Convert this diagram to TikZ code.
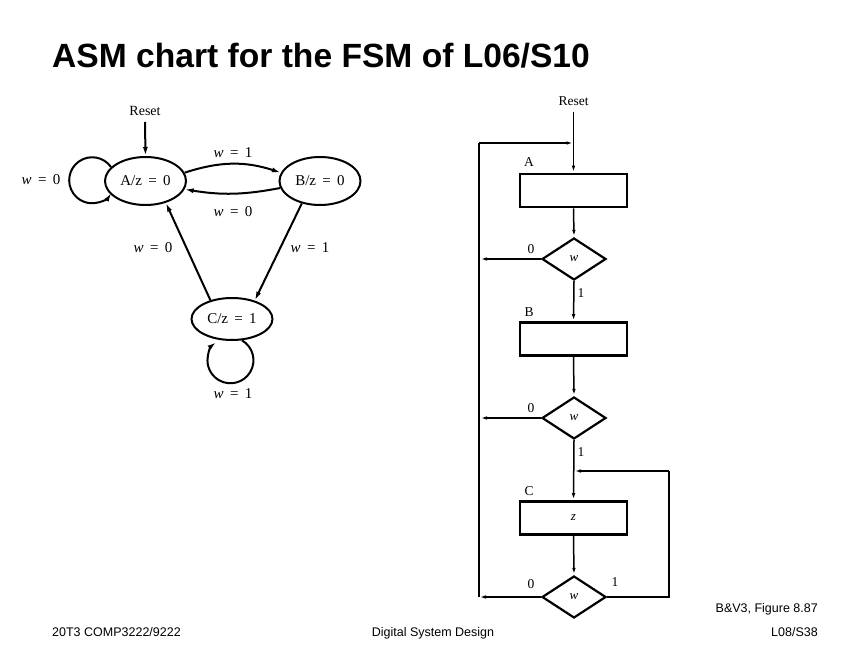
\documentclass[tikz,border=0pt]{standalone}
\usepackage{fontspec}
\setmainfont{Liberation Serif}
\newfontfamily\slidefont{Liberation Sans}
\usetikzlibrary{shapes.geometric,arrows.meta}
\newcommand{\eqsp}{\hspace{0.42em}}
\begin{document}
\begin{tikzpicture}[x=1pt,y=1pt,
  state/.style={ellipse,draw,line width=2pt,inner sep=0pt,minimum width=81pt,minimum height=48pt,font=\fontsize{15}{15}\selectfont},
  lbl/.style={font=\fontsize{15}{15}\selectfont,inner sep=0pt},
  sarr/.style={line width=2pt,-{Latex[length=9pt,width=5pt]}},
  abox/.style={rectangle,draw,line width=2.6pt,minimum width=107pt,minimum height=33pt,inner sep=0pt,font=\fontsize{13}{13}\selectfont},
  adia/.style={diamond,draw,line width=2.2pt,minimum width=64pt,minimum height=42pt,inner sep=0pt,font=\fontsize{13}{13}\selectfont},
  alab/.style={font=\fontsize{13.5}{13.5}\selectfont,inner sep=0pt},
  aarr/.style={line width=1.5pt,-{Latex[length=7pt,width=3.5pt]}},
  aline/.style={line width=1.5pt},
  foot/.style={font=\slidefont\fontsize{12.5}{12.5}\selectfont,inner sep=0pt}]
\useasboundingbox (0,0) rectangle (864,648);

% title
\node[anchor=base west,inner sep=0pt,font=\slidefont\bfseries\fontsize{33.6}{33.6}\selectfont] (title) at (52,580) {ASM chart for the FSM of L06/S10};

% ---------- state diagram ----------
\node[font=\fontsize{14}{14}\selectfont,inner sep=0pt] (rst1) at (145,537) {Reset};
\node[state] (A) at (145.5,467) {A/z\eqsp=\eqsp0};
\node[state] (B) at (320,467) {B/z\eqsp=\eqsp0};
\node[state,minimum height=42pt] (C) at (232,329) {C/z\eqsp=\eqsp1};

\coordinate (rst1a) at (145,526);
\draw[sarr] (rst1a) -- (A.north);

% self-loop on A
\node[lbl] (lA) at (41,468) {\textit{w}\eqsp=\eqsp0};
\draw[sarr] (A.158) arc[start angle=35,end angle=327,radius=23];
\node[lbl] (lAB) at (233,495) {\textit{w}\eqsp=\eqsp1};
\draw[sarr] (A.12) to[bend left=18] (B.168);
\node[lbl] (lBA) at (233,436) {\textit{w}\eqsp=\eqsp0};
\draw[sarr] (B.190) to[bend left=10] (A.348);
\node[lbl] (lBC) at (310,400) {\textit{w}\eqsp=\eqsp1};
\draw[sarr] (B.-129) -- (C.39);
\node[lbl] (lCA) at (153,400) {\textit{w}\eqsp=\eqsp0};
\draw[sarr] (C.139) -- (A.-47);
% self-loop on C
\node[lbl] (lC) at (233,254) {\textit{w}\eqsp=\eqsp1};
\draw[sarr] (C.-65) arc[start angle=60,end angle=-232,radius=23];

% ---------- ASM chart ----------
\node[alab] (rst2) at (573.5,547) {Reset};
\coordinate (top) at (573.5,536);
\coordinate (jA) at (573.5,505);
\coordinate (loopT) at (479,505);
\coordinate (loopB) at (479,51);

\node[alab] (nA) at (529,486) {A};
\node[abox] (boxA) at (573.5,457.5) {};
\node[adia] (d1) at (574,389) {\textit{w}};
\node[alab] (d1z) at (531,399) {0};
\node[alab] (d1o) at (581,355) {1};
\coordinate (d1l) at (480,389);

\node[alab] (nB) at (529,336) {B};
\node[abox] (boxB) at (573.5,309) {};
\node[adia] (d2) at (574,230) {\textit{w}};
\node[alab] (d2z) at (531,240) {0};
\node[alab] (d2o) at (581,196) {1};
\coordinate (d2l) at (480,230);

\coordinate (jC) at (574,177);
\coordinate (fbR) at (669,177);
\coordinate (fbB) at (669,51);
\node[alab] (nC) at (529,157) {C};
\node[abox] (boxC) at (573.5,130) {\textit{z}};
\node[adia] (d3) at (574,51) {\textit{w}};
\node[alab] (d3z) at (531,64) {0};
\node[alab] (d3o) at (615,66) {1};

\draw[aarr] (top) -- (boxA.north);
\draw[aline] (loopB) -- (loopT);
\draw[aarr] (loopT) -- (jA);
\draw[aarr] (boxA.south) -- (d1.north);
\draw[aarr] (d1.west) -- (d1l);
\draw[aarr] (d1.south) -- (boxB.north);
\draw[aarr] (boxB.south) -- (d2.north);
\draw[aarr] (d2.west) -- (d2l);
\draw[aarr] (d2.south) -- (boxC.north);
\draw[aarr] (boxC.south) -- (d3.north);
\draw[aarr] (d3.west) -- (loopB);
\draw[aline] (d3.east) -- (fbB) -- (fbR);
\draw[aarr] (fbR) -- (jC);

% ---------- footer ----------
\node[foot,anchor=base east] (ref) at (818,36) {B\&V3, Figure 8.87};
\node[foot,anchor=base west] (course) at (52,12) {20T3 COMP3222/9222};
\node[foot,anchor=base] (subj) at (433,12) {Digital System Design};
\node[foot,anchor=base east] (slide) at (818,12) {L08/S38};
\end{tikzpicture}
\end{document}
